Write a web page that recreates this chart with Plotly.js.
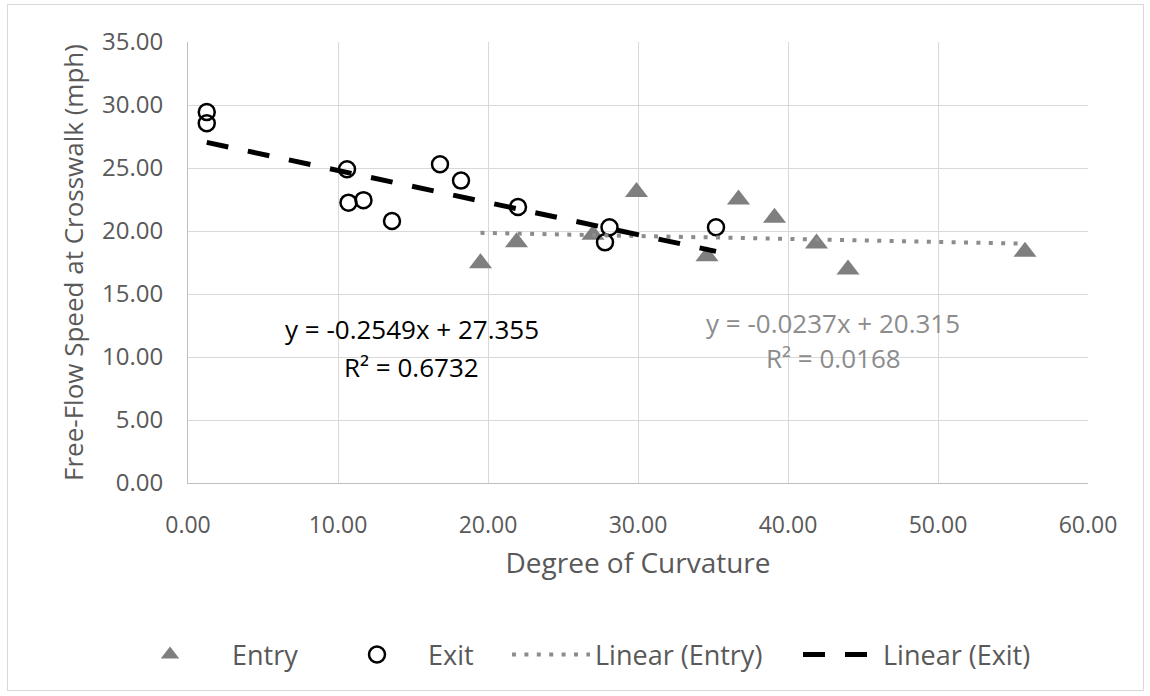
<!DOCTYPE html>
<html>
<head>
<meta charset="utf-8">
<script src="https://cdn.plot.ly/plotly-3.0.1.min.js"></script>
<style>
  html, body { margin: 0; padding: 0; background: #fff; }
  #wrap { position: relative; width: 1150px; height: 696px; }
  #plot { width: 1150px; height: 696px; }
  #frame { position: absolute; left: 7px; top: 4px; width: 1135px; height: 685px;
           border: 1.5px solid #d9d9d9; pointer-events: none; }
</style>
</head>
<body>
<div id="wrap"><div id="plot"></div><div id="frame"></div></div>
<script>
// Degree of curvature vs free-flow speed (mph)
const entryX = [19.5, 21.9, 27.0, 29.9, 34.6, 36.7, 39.1, 41.9, 44.0, 55.8];
const entryY = [17.45, 19.1, 19.7, 23.1, 18.0, 22.5, 21.05, 19.0, 16.95, 18.35];
const exitX = [1.25, 1.25, 10.6, 10.7, 11.7, 13.6, 16.8, 18.2, 22.0, 28.1, 27.8, 35.2];
const exitY = [29.45, 28.55, 24.9, 22.25, 22.45, 20.8, 25.3, 24.0, 21.9, 20.3, 19.1, 20.3];

// Trendline coefficients as printed on the chart [slope, intercept]
const entryFit = [-0.0237, 20.315];
const exitFit = [-0.2549, 27.355];
const entryEq = ["y = -0.0237x + 20.315", "R² = 0.0168"];
const exitEq = ["y = -0.2549x + 27.355", "R² = 0.6732"];

const xTicks = [0, 10, 20, 30, 40, 50, 60];
const yTicks = [0, 5, 10, 15, 20, 25, 30, 35];

function fitLine(xs, coef) {
  const x0 = Math.min(...xs), x1 = Math.max(...xs);
  return { x: [x0, x1], y: [coef[0] * x0 + coef[1], coef[0] * x1 + coef[1]] };
}
const entryLine = fitLine(entryX, entryFit);
const exitLine = fitLine(exitX, exitFit);

const gray = '#595959';
const traces = [
  { x: entryX, y: entryY, name: 'Entry', type: 'scatter', mode: 'markers', legend: 'legend',
    marker: { symbol: 'triangle-up', size: 20, color: '#7f7f7f' } },
  { x: exitX, y: exitY, name: 'Exit', type: 'scatter', mode: 'markers', legend: 'legend2',
    marker: { symbol: 'circle-open', size: 16, color: '#000', line: { width: 2.5, color: '#000' } } },
  { x: entryLine.x, y: entryLine.y, name: 'Linear (Entry)', type: 'scatter', mode: 'lines', legend: 'legend3',
    line: { color: '#8c8c8c', width: 4, dash: '4px,8.4px' } },
  { x: exitLine.x, y: exitLine.y, name: 'Linear (Exit)', type: 'scatter', mode: 'lines', legend: 'legend4',
    line: { color: '#000', width: 5, dash: '22px,20px' } }
];

const legFont = { family: 'Open Sans', size: 27, color: gray };
function leg(px, iw) {
  return { orientation: 'h', x: (px - 188) / 900, xanchor: 'left', y: -0.39, yanchor: 'middle',
           font: legFont, itemwidth: iw, bgcolor: 'rgba(0,0,0,0)' };
}

const layout = {
  width: 1150, height: 696,
  margin: { l: 188, r: 62, t: 42, b: 213 },
  paper_bgcolor: '#fff', plot_bgcolor: '#fff',
  showlegend: true,
  legend: leg(108, 114),
  legend2: leg(326, 92),
  legend3: leg(507, 78),
  legend4: leg(798, 75),
  xaxis: {
    range: [0, 60], tickvals: xTicks, tickformat: '.2f',
    showgrid: true, gridcolor: '#d9d9d9', gridwidth: 1,
    zeroline: false, showline: true, linecolor: '#bfbfbf', linewidth: 1, ticks: '',
    tickfont: { family: 'Open Sans', size: 23, color: gray }, ticklabelstandoff: 21,
    title: { text: 'Degree of Curvature', font: { family: 'Open Sans', size: 28, color: gray }, standoff: 14 },
    fixedrange: true
  },
  yaxis: {
    range: [0, 35], tickvals: yTicks, tickformat: '.2f',
    showgrid: true, gridcolor: '#d9d9d9', gridwidth: 1,
    zeroline: false, showline: true, linecolor: '#bfbfbf', linewidth: 1, ticks: '',
    tickfont: { family: 'Open Sans', size: 24, color: gray }, ticklabelstandoff: 19,
    title: { text: 'Free-Flow Speed at Crosswalk (mph)', font: { family: 'Open Sans', size: 26, color: gray }, standoff: 10 },
    fixedrange: true
  },
  annotations: [
    { xref: 'x', yref: 'y', x: 14.9, y: (483 - 329) / 12.6, text: exitEq[0], showarrow: false,
      font: { family: 'Open Sans', size: 26, color: '#000' }, xanchor: 'center', yanchor: 'middle' },
    { xref: 'x', yref: 'y', x: 14.9, y: (483 - 367) / 12.6, text: exitEq[1], showarrow: false,
      font: { family: 'Open Sans', size: 26, color: '#000' }, xanchor: 'center', yanchor: 'middle' },
    { xref: 'x', yref: 'y', x: 43.0, y: (483 - 323) / 12.6, text: entryEq[0], showarrow: false,
      font: { family: 'Open Sans', size: 26, color: '#8c8c8c' }, xanchor: 'center', yanchor: 'middle' },
    { xref: 'x', yref: 'y', x: 43.0, y: (483 - 358) / 12.6, text: entryEq[1], showarrow: false,
      font: { family: 'Open Sans', size: 26, color: '#8c8c8c' }, xanchor: 'center', yanchor: 'middle' }
  ]
};

Plotly.newPlot('plot', traces, layout, { displayModeBar: false, staticPlot: true });
</script>
</body>
</html>
